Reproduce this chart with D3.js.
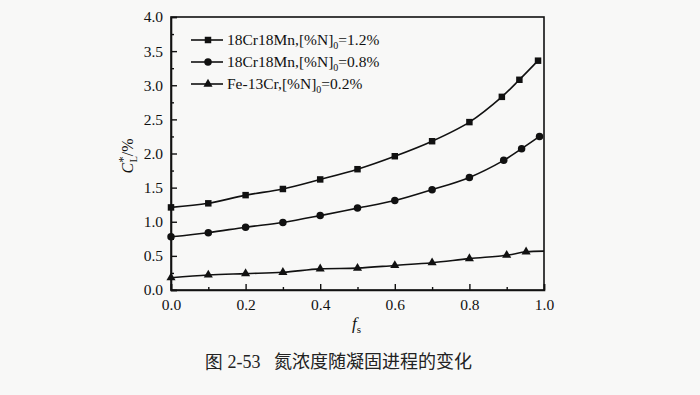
<!DOCTYPE html>
<html>
<head>
<meta charset="utf-8">
<script src="https://cdn.jsdelivr.net/npm/d3@7"></script>
<style>
  body { margin: 0; background: #f8f8f7; }
  svg { display: block; }
</style>
</head>
<body>
<div id="chart"></div>
<script>

// values
const seriesNames = ["18Cr18Mn,[%N]0=1.2%", "18Cr18Mn,[%N]0=0.8%", "Fe-13Cr,[%N]0=0.2%"];

const fsHigh = [0, 0.1, 0.2, 0.3, 0.4, 0.5, 0.6, 0.7, 0.8, 0.887, 0.934, 0.984];
const cHigh  = [1.21, 1.27, 1.39, 1.48, 1.62, 1.77, 1.96, 2.18, 2.46, 2.83, 3.08, 3.36];

const fsMid = [0, 0.1, 0.2, 0.3, 0.4, 0.5, 0.6, 0.7, 0.8, 0.892, 0.94, 0.988];
const cMid  = [0.78, 0.84, 0.92, 0.99, 1.09, 1.20, 1.31, 1.47, 1.65, 1.90, 2.07, 2.25];

// last point is where the curve meets the frame, no marker there
const fsLow = [0, 0.1, 0.2, 0.3, 0.4, 0.5, 0.6, 0.7, 0.8, 0.9, 0.952, 1.0];
const cLow  = [0.18, 0.22, 0.24, 0.26, 0.31, 0.32, 0.36, 0.40, 0.46, 0.51, 0.56, 0.57];

const xTicks = [0, 0.2, 0.4, 0.6, 0.8, 1.0];
const yTicks = [0, 0.5, 1.0, 1.5, 2.0, 2.5, 3.0, 3.5, 4.0];


var width = 700;
var height = 395;

// plot box (note: "top" clashes with window.top, so prefixed)
var pLeft = 171, pRight = 544, pTop = 17, pBottom = 290;

var svg = d3.select("#chart").append("svg")
    .attr("width", width)
    .attr("height", height)

const x = d3.scaleLinear().domain([0, 1]).range([pLeft, pRight]);
const y = d3.scaleLinear().domain([0, 4]).range([pBottom, pTop]);

const serif = "'Liberation Serif', 'DejaVu Serif', serif";

// frame
svg.append("rect")
    .attr("x", pLeft).attr("y", pTop)
    .attr("width", pRight - pLeft).attr("height", pBottom - pTop)
    .attr("fill", "none").attr("stroke", "#111").attr("stroke-width", 1.6)

// x axis, ticks pointing inward
const xAxis = d3.axisBottom(x).tickValues(xTicks).tickSize(-6).tickPadding(9)
    .tickFormat(d3.format(".1f"));
svg.append("g").attr("transform", `translate(0,${pBottom})`).call(xAxis);

// minor x ticks
svg.append("g").attr("class", "minor").attr("transform", `translate(0,${pBottom})`)
    .call(d3.axisBottom(x).tickValues([0.1, 0.3, 0.5, 0.7, 0.9]).tickSize(-3).tickFormat(""))

const yAxis = d3.axisLeft(y).tickValues(yTicks).tickSize(-6).tickPadding(8)
    .tickFormat(d3.format(".1f"));
svg.append("g").attr("transform", `translate(${pLeft},0)`).call(yAxis);

svg.append("g").attr("class", "minor").attr("transform", `translate(${pLeft},0)`)
    .call(d3.axisLeft(y).tickValues(d3.range(0.25, 4, 0.5)).tickSize(-3).tickFormat(""))

svg.selectAll(".minor .domain").remove();
svg.selectAll(".domain").attr("stroke", "#111").attr("stroke-width", 1.6)
svg.selectAll(".tick line").attr("stroke", "#111").attr("stroke-width", 1.4)
svg.selectAll(".tick text")
    .attr("font-family", serif).attr("font-size", 15.5).attr("fill", "#111")


const line = d3.line()
    .x(d => x(d[0]))
    .y(d => y(d[1]))
    .curve(d3.curveCatmullRom.alpha(0.5))

const series = [
    { name: seriesNames[0], pts: d3.zip(fsHigh, cHigh), sym: d3.symbolSquare, size: 42, markLast: true },
    { name: seriesNames[1], pts: d3.zip(fsMid, cMid), sym: d3.symbolCircle, size: 44, markLast: true },
    { name: seriesNames[2], pts: d3.zip(fsLow, cLow), sym: d3.symbolTriangle, size: 36, markLast: false }
]

series.forEach(s => {
    svg.append("path")
        .attr("d", line(s.pts))
        .attr("fill", "none")
        .attr("stroke", "#111")
        .attr("stroke-width", 1.6)

    const marked = s.markLast ? s.pts : s.pts.slice(0, -1);

    svg.selectAll(null)
        .data(marked)
        .enter()
        .append("path")
        .attr("d", d3.symbol().type(s.sym).size(s.size))
        .attr("transform", d => `translate(${x(d[0])},${y(d[1])})`)
        .attr("fill", "#111")
})


// legend
const legend = svg.append("g")
const legendY = [40, 62, 84];

series.forEach((s, i) => {
    const ly = legendY[i];
    legend.append("line")
        .attr("x1", 191).attr("x2", 223)
        .attr("y1", ly).attr("y2", ly)
        .attr("stroke", "#111").attr("stroke-width", 1.6)
    legend.append("path")
        .attr("d", d3.symbol().type(s.sym).size(s.size))
        .attr("transform", `translate(208,${ly})`)
        .attr("fill", "#111")

    const parts = s.name.split("]0");
    const t = legend.append("text")
        .attr("x", 227).attr("y", ly + 5)
        .attr("font-family", serif).attr("font-size", 15.5).attr("fill", "#111")
    t.append("tspan").text(parts[0] + "]")
    t.append("tspan").attr("dy", 4).attr("font-size", 10).text("0")
    t.append("tspan").attr("dy", -4).text(parts[1])
})


// axis titles
const yl = svg.append("text")
    .attr("transform", "translate(133,156) rotate(-90)")
    .attr("text-anchor", "middle")
    .attr("font-family", serif).attr("font-size", 16).attr("fill", "#111")
yl.append("tspan").attr("font-style", "italic").text("C")
yl.append("tspan").attr("dy", -6).attr("font-size", 13).text("*")
yl.append("tspan").attr("dx", -6).attr("dy", 10).attr("font-size", 10).text("L")
yl.append("tspan").attr("dy", -4).text("/%")

const xl = svg.append("text")
    .attr("x", 352).attr("y", 329)
    .attr("font-family", serif).attr("font-size", 17).attr("fill", "#111")
xl.append("tspan").attr("font-style", "italic").text("f")
xl.append("tspan").attr("dy", 4).attr("font-size", 11).text("s")


// caption
const cap = svg.append("text")
    .attr("x", 205).attr("y", 368)
    .attr("font-size", 18).attr("fill", "#222")
cap.append("tspan").attr("font-family", serif).text("图 2-53")
cap.append("tspan").attr("x", 274)
    .attr("font-family", "'Noto Sans CJK SC', sans-serif")
    .text("氮浓度随凝固进程的变化")

</script>
</body>
</html>
